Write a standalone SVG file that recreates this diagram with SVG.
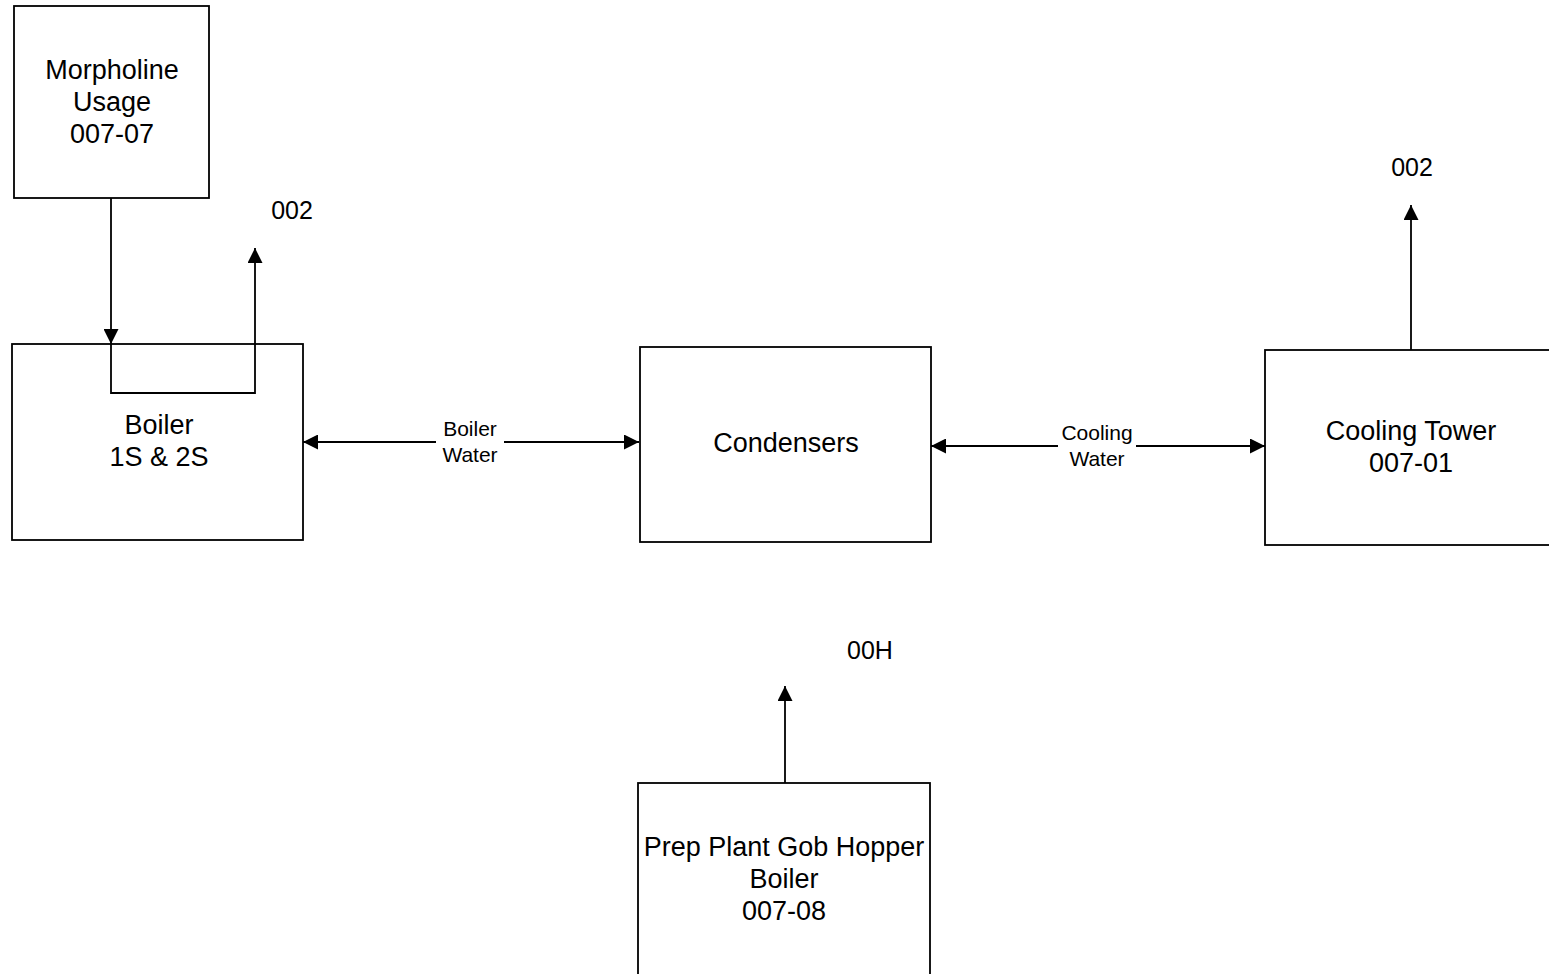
<svg xmlns="http://www.w3.org/2000/svg" width="1549" height="974" viewBox="0 0 1549 974">
<defs>
<marker id="ah" viewBox="0 0 10 10" refX="10" refY="5" markerWidth="15" markerHeight="15" markerUnits="userSpaceOnUse" orient="auto-start-reverse">
<path d="M0,0 L10,5 L0,10 z" fill="#000"/>
</marker>
<style>
.box{fill:#fff;stroke:#000;stroke-width:1.8}
.t{font-family:"Liberation Sans",Arial,sans-serif;font-size:27px;fill:#000;text-anchor:middle}
.n{font-family:"Liberation Sans",Arial,sans-serif;font-size:25px;fill:#000;text-anchor:middle}
.s{font-family:"Liberation Sans",Arial,sans-serif;font-size:21px;fill:#000;text-anchor:middle}
.c{fill:none;stroke:#000;stroke-width:1.8}
.bg{fill:#fff;stroke:none}
</style>
</defs>
<rect width="1549" height="974" fill="#fff"/>
<g id="morpholine">
<rect class="box" x="14" y="6" width="195" height="192"/>
<text class="t" x="112" y="79">Morpholine</text>
<text class="t" x="112" y="111">Usage</text>
<text class="t" x="112" y="143">007-07</text>
</g>
<g id="boiler">
<rect class="box" x="12" y="344" width="291" height="196"/>
<text class="t" x="159" y="434">Boiler</text>
<text class="t" x="159" y="466">1S &amp; 2S</text>
</g>
<g id="condensers">
<rect class="box" x="640" y="347" width="291" height="195"/>
<text class="t" x="786" y="452">Condensers</text>
</g>
<g id="cooling-tower">
<rect class="box" x="1265" y="350" width="300" height="195"/>
<text class="t" x="1411" y="440">Cooling Tower</text>
<text class="t" x="1411" y="472">007-01</text>
</g>
<g id="prep-plant">
<rect class="box" x="638" y="783" width="292" height="200"/>
<text class="t" x="784" y="856">Prep Plant Gob Hopper</text>
<text class="t" x="784" y="888">Boiler</text>
<text class="t" x="784" y="920">007-08</text>
</g>
<g id="labels">
<text class="n" x="292" y="219">002</text>
<text class="n" x="1412" y="176">002</text>
<text class="n" x="870" y="659">00H</text>
</g>
<g id="connectors">
<path class="c" d="M111,198 L111,344" marker-end="url(#ah)"/>
<path class="c" d="M111,344 L111,393 L255,393 L255,248" marker-end="url(#ah)"/>
<path class="c" d="M303,442 L639,442" marker-start="url(#ah)" marker-end="url(#ah)"/>
<rect class="bg" x="436" y="418" width="68" height="48"/>
<text class="s" x="470" y="436">Boiler</text>
<text class="s" x="470" y="462">Water</text>
<path class="c" d="M931,446 L1265,446" marker-start="url(#ah)" marker-end="url(#ah)"/>
<rect class="bg" x="1058" y="422" width="78" height="48"/>
<text class="s" x="1097" y="440">Cooling</text>
<text class="s" x="1097" y="466">Water</text>
<path class="c" d="M1411,350 L1411,205" marker-end="url(#ah)"/>
<path class="c" d="M785,783 L785,686" marker-end="url(#ah)"/>
</g>
</svg>
